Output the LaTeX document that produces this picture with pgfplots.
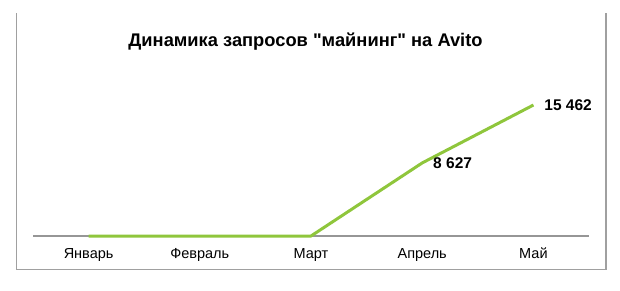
\documentclass[border=0pt]{standalone}
\usepackage{pgfplots}
\pgfplotsset{compat=1.18}
\usepackage{fontspec}
\setmainfont{Liberation Sans}
% family without TeX ligature mapping, so that " stays straight
\newfontfamily\plainsans{Liberation Sans}
\definecolor{linegreen}{RGB}{143,198,60}
\definecolor{axisgray}{RGB}{150,150,150}
\definecolor{framegray}{RGB}{160,160,160}
\begin{document}
\begin{tikzpicture}[x=1pt,y=1pt]
\useasboundingbox (0,0) rectangle (620,290);
% open frame (left, bottom, right)
\draw[framegray, line width=1.2pt] (16.5,276.5) -- (16.5,20.5) -- (606,20.5) -- (606,277);
% title
\node[anchor=base, font=\plainsans\fontsize{18.3}{21}\selectfont\bfseries] at (305.5,243.5)
  {Динамика запросов "майнинг" на Avito};
\begin{axis}[
  at={(33pt,54pt)}, anchor=south west,
  scale only axis, width=556pt, height=169.4pt,
  xmin=-0.5, xmax=4.5, ymin=0, ymax=20000,
  axis y line=none,
  axis x line*=bottom,
  x axis line style={axisgray, line width=1.3pt, -},
  xtick={0,1,2,3,4},
  xticklabels={Январь,Февраль,Март,Апрель,Май},
  major tick length=0pt,
  xticklabel style={anchor=base, yshift=-22pt, font=\fontsize{14.5}{17}\selectfont},
  clip=false,
]
\addplot[linegreen, line width=3pt, line join=round] coordinates {
  (0,0) (1,0) (2,0) (3,8627) (4,15462)
};
\addplot[draw=none, mark=none, point meta=y,
  nodes near coords={\pgfmathprintnumber[fixed,precision=0,1000 sep={\ },assume math mode=true]{\pgfplotspointmeta}},
  every node near coord/.append style={anchor=west, xshift=7.5pt, font=\fontsize{15.5}{18}\selectfont\bfseries}]
  coordinates {(3,8627) (4,15462)};
\end{axis}
\end{tikzpicture}
\end{document}
